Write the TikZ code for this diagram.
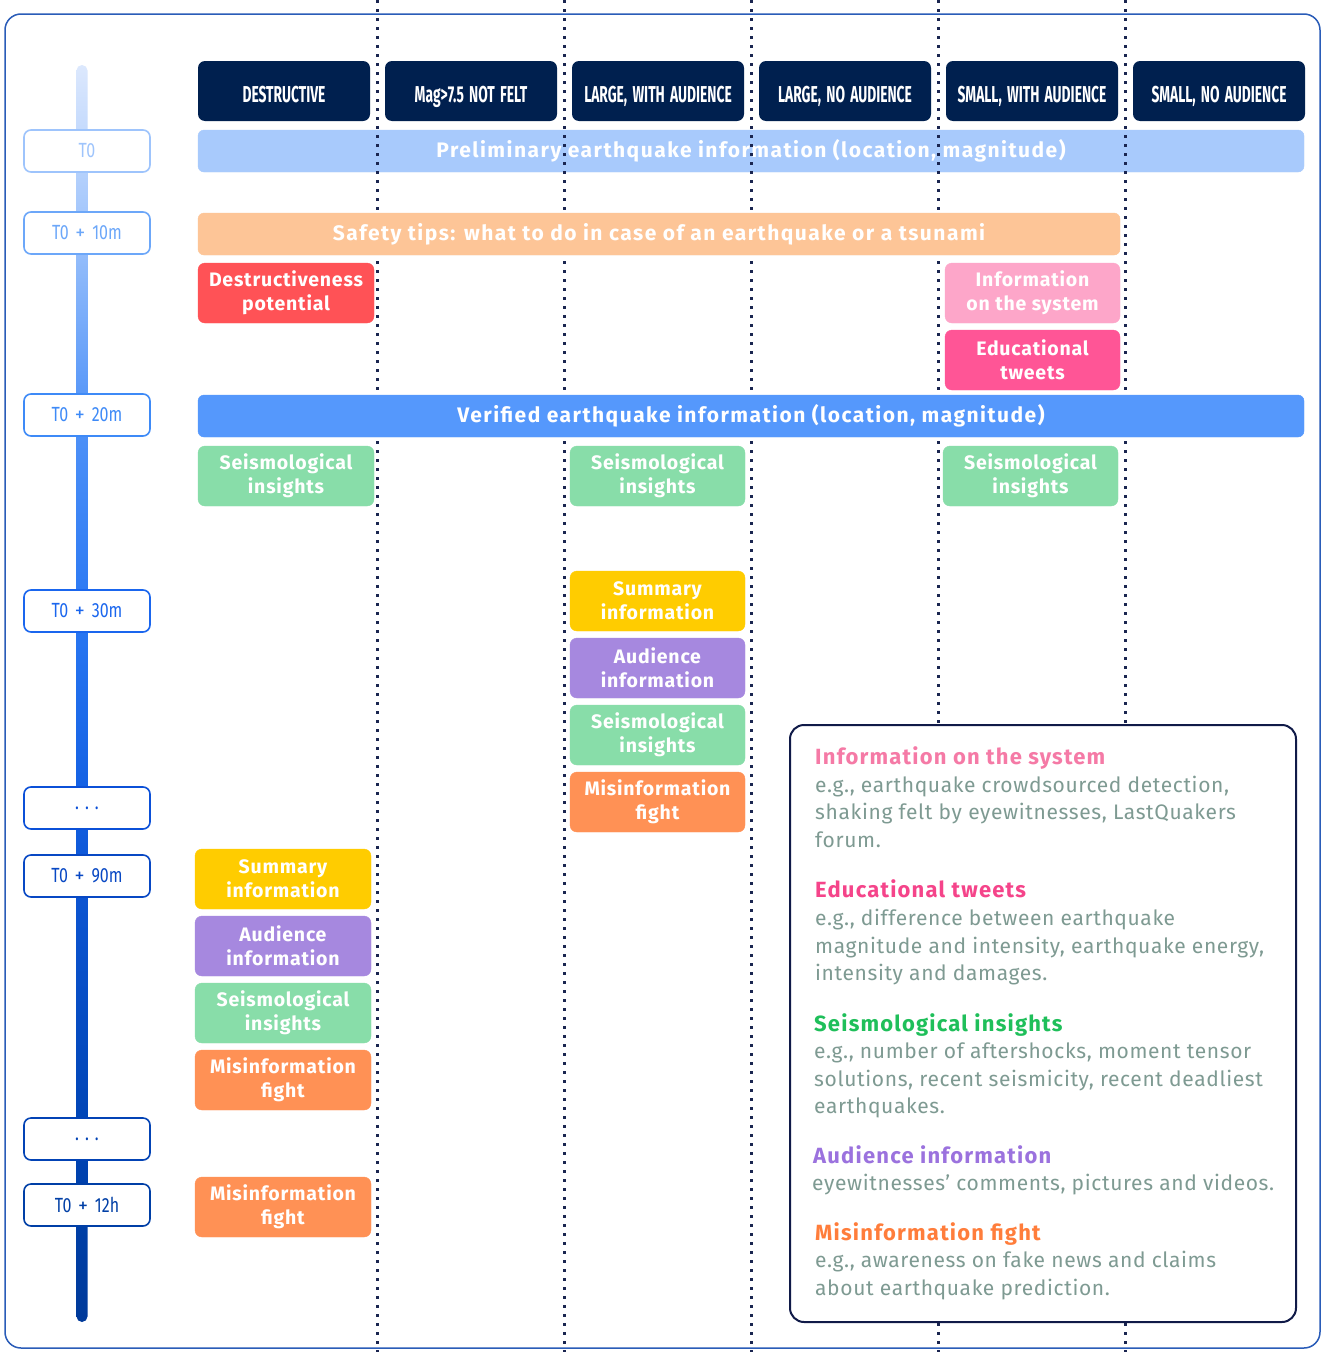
\documentclass[tikz,border=0pt]{standalone}
\usepackage{fontspec}
\setmainfont{Fira Sans}
\newfontfamily\hdrfont[FakeStretch=0.6, WordSpace=1.6]{Fira Sans}
\newfontfamily\tlfont[FakeStretch=0.78]{Fira Sans}
\newfontfamily\plusfont{Fira Sans}
\newfontfamily\barfont[LetterSpace=7]{Fira Sans}
\newfontfamily\boxfont[LetterSpace=4]{Fira Sans}
\newfontfamily\legheadfont[LetterSpace=5.5]{Fira Sans}
\newfontfamily\legbodyfont[LetterSpace=3]{Fira Sans}
\newcommand{\tplus}{\hspace{6.5pt}{\plusfont\fontsize{20}{20}\selectfont +}\hspace{7pt}}
\newcommand{\tdots}{.\hspace{6pt}.\hspace{6pt}.\hspace{8pt}}
\definecolor{navy}{HTML}{00204F}
\definecolor{framec}{HTML}{2A5CB8}
\definecolor{dotc}{HTML}{1A2550}
\definecolor{prelim}{HTML}{A8CAFC}
\definecolor{safety}{HTML}{FDC597}
\definecolor{verif}{HTML}{5598FC}
\definecolor{cred}{HTML}{FF5256}
\definecolor{cpinkl}{HTML}{FDA6C9}
\definecolor{cpink}{HTML}{FF5596}
\definecolor{cgreen}{HTML}{88DDA9}
\definecolor{cyellow}{HTML}{FFCC00}
\definecolor{cpurple}{HTML}{A688DF}
\definecolor{corange}{HTML}{FF9155}
\definecolor{legtext}{HTML}{7E9A92}
\definecolor{legbord}{HTML}{101A48}
\definecolor{hpinkl}{HTML}{F57AA6}
\definecolor{hpink}{HTML}{F5448A}
\definecolor{hgreen}{HTML}{1FBF5A}
\definecolor{hpurple}{HTML}{9B72DE}
\definecolor{horange}{HTML}{FF7D3B}
\definecolor{g0}{HTML}{DCE8FD}
\definecolor{g1}{HTML}{BDD6FD}
\definecolor{g2}{HTML}{9CC2FB}
\definecolor{g3}{HTML}{5193F8}
\definecolor{g4}{HTML}{2A78F3}
\definecolor{g5}{HTML}{125FE2}
\definecolor{g6}{HTML}{0D56D4}
\definecolor{g7}{HTML}{0044B4}
\definecolor{g8}{HTML}{0040A9}
\definecolor{g9}{HTML}{003A9A}
\definecolor{l1}{HTML}{9EC4FC}
\definecolor{l2}{HTML}{6CA7F9}
\definecolor{l3}{HTML}{3E8AF7}
\definecolor{l4}{HTML}{1A66EE}
\definecolor{l5}{HTML}{0B50D8}
\definecolor{l6}{HTML}{0848C4}
\definecolor{l7}{HTML}{0343B5}
\definecolor{l8}{HTML}{003FA6}
\begin{document}
\begin{tikzpicture}[x=1pt,y=-1pt,
 hdr/.style={fill=navy, rounded corners=7pt, minimum width=172pt, minimum height=60pt, inner sep=0pt, text=white, text height=22pt, text depth=0pt, font=\hdrfont\bfseries\fontsize{23}{26}\selectfont},
 tlab/.style={fill=white, draw=#1, text=#1, line width=1.6pt, rounded corners=7pt, minimum width=126pt, minimum height=42pt, inner sep=0pt, font=\tlfont\fontsize{20.5}{24}\selectfont},
 bar/.style={fill=#1, draw=#1, rounded corners=6pt, minimum height=42pt, inner sep=0pt, text=white, font=\barfont\bfseries\fontsize{21}{24}\selectfont},
 cbox/.style={fill=#1, draw=#1, rounded corners=7pt, minimum width=175pt, minimum height=60pt, inner sep=0pt, text=white, align=center, font=\boxfont\bfseries\fontsize{19.5}{24}\selectfont},
 lhead/.style={anchor=base west, inner sep=0pt, text=#1, font=\legheadfont\bfseries\fontsize{22}{24}\selectfont},
 lbody/.style={anchor=base west, inner sep=0pt, text=legtext, font=\legbodyfont\fontsize{21}{24}\selectfont},
 dots/.style={draw=dotc, line width=2.6pt, dash pattern=on 2.6pt off 6.4pt}
]
\useasboundingbox (0,0) rectangle (1325,1352);
\fill[white] (0,0) rectangle (1325,1352);
% outer frame
\draw[framec, line width=1.5pt, rounded corners=16pt] (5,14) rectangle (1320,1348);
% headers
\node[hdr] (h1) at (284,91) {DESTRUCTIVE};
\node[hdr] (h2) at (471,91) {Mag>7.5 NOT FELT};
\node[hdr] (h3) at (658,91) {LARGE, WITH AUDIENCE};
\node[hdr] (h4) at (845,91) {LARGE, NO AUDIENCE};
\node[hdr] (h5) at (1032,91) {SMALL, WITH AUDIENCE};
\node[hdr] (h6) at (1219,91) {SMALL, NO AUDIENCE};
% preliminary bar
\node[bar=prelim, minimum width=1106pt] (prel) at (751,151) {Preliminary earthquake information (location, magnitude)};
% dotted column separators
\foreach \x in {377.5,564.5,751.5,938.5,1125.5}
  \draw[dots] (\x,0) -- (\x,1352);
% safety & verified bars
\node[bar=safety, minimum width=922pt] (safe) at (659,234) {Safety tips: what to do in case of an earthquake or a tsunami};
\node[bar=verif, minimum width=1106pt] (verf) at (751,416) {Verified earthquake information (location, magnitude)};
% boxes
\node[cbox=cred, minimum width=176pt] (destr) at (286,293) {Destructiveness\\potential};
\node[cbox=cpinkl] (infs) at (1032.5,293) {Information\\on the system};
\node[cbox=cpink] (educ) at (1032.5,360) {Educational\\tweets};
\node[cbox=cgreen, minimum width=176pt] (seis1) at (286,476) {Seismological\\insights};
\node[cbox=cgreen] (seis3) at (657.5,476) {Seismological\\insights};
\node[cbox=cgreen] (seis5) at (1030.5,476) {Seismological\\insights};
\node[cbox=cyellow] (sum3) at (657.5,601) {Summary\\information};
\node[cbox=cpurple] (aud3) at (657.5,668) {Audience\\information};
\node[cbox=cgreen] (seis3b) at (657.5,735) {Seismological\\insights};
\node[cbox=corange] (mis3) at (657.5,802) {Misinformation\\fight};
\node[cbox=cyellow, minimum width=176pt] (sum1) at (283,879) {Summary\\information};
\node[cbox=cpurple, minimum width=176pt] (aud1) at (283,946) {Audience\\information};
\node[cbox=cgreen, minimum width=176pt] (seis1b) at (283,1013) {Seismological\\insights};
\node[cbox=corange, minimum width=176pt] (mis1) at (283,1080) {Misinformation\\fight};
\node[cbox=corange, minimum width=176pt] (mis1b) at (283,1207) {Misinformation\\fight};
% timeline bar
\shade[top color=g0, bottom color=g1, rounded corners=5.5pt] (76.5,151) -- (76.5,65) -- (87.5,65) -- (87.5,151) -- cycle;
\shade[top color=g1, bottom color=g2] (76.5,151) rectangle (87.5,233);
\shade[top color=g2, bottom color=g3] (76.5,233) rectangle (87.5,415);
\shade[top color=g3, bottom color=g4] (76.5,415) rectangle (87.5,611);
\shade[top color=g4, bottom color=g5] (76.5,611) rectangle (87.5,808);
\shade[top color=g5, bottom color=g6] (76.5,808) rectangle (87.5,876);
\shade[top color=g6, bottom color=g7] (76.5,876) rectangle (87.5,1139);
\shade[top color=g7, bottom color=g8] (76.5,1139) rectangle (87.5,1205);
\shade[top color=g8, bottom color=g9, rounded corners=5.5pt] (76.5,1205) -- (76.5,1322) -- (87.5,1322) -- (87.5,1205) -- cycle;
% timeline labels
\node[tlab=l1] (t0) at (87,151) {T0};
\node[tlab=l2] (t10) at (87,233) {T0\tplus10m};
\node[tlab=l3] (t20) at (87,415) {T0\tplus20m};
\node[tlab=l4] (t30) at (87,611) {T0\tplus30m};
\node[tlab=l5] (td1) at (87,808) {\tdots};
\node[tlab=l6] (t90) at (87,876) {T0\tplus90m};
\node[tlab=l7] (td2) at (87,1139) {\tdots};
\node[tlab=l8] (t12) at (87,1205) {T0\tplus12h};
% legend
\draw[legbord, fill=white, line width=2pt, rounded corners=14pt] (790,725) rectangle (1296,1322);
\node[lhead=hpinkl] (lh1) at (815,764) {Information on the system};
\node[lbody] (lb1a) at (815,792) {e.g., earthquake crowdsourced detection,};
\node[lbody] (lb1b) at (815,819) {shaking felt by eyewitnesses, LastQuakers};
\node[lbody] (lb1c) at (815,847) {forum.};
\node[lhead=hpink] (lh2) at (815,897) {Educational tweets};
\node[lbody] (lb2a) at (815,925) {e.g., difference between earthquake};
\node[lbody] (lb2b) at (815,953) {magnitude and intensity, earthquake energy,};
\node[lbody] (lb2c) at (815,980) {intensity and damages.};
\node[lhead=hgreen] (lh3) at (814,1031) {Seismological insights};
\node[lbody] (lb3a) at (814,1058) {e.g., number of aftershocks, moment tensor};
\node[lbody] (lb3b) at (814,1086) {solutions, recent seismicity, recent deadliest};
\node[lbody] (lb3c) at (814,1113) {earthquakes.};
\node[lhead=hpurple] (lh4) at (813,1163) {Audience information};
\node[lbody] (lb4a) at (812,1190) {eyewitnesses’ comments, pictures and videos.};
\node[lhead=horange] (lh5) at (815,1240) {Misinformation fight};
\node[lbody] (lb5a) at (815,1267) {e.g., awareness on fake news and claims};
\node[lbody] (lb5b) at (815,1295) {about earthquake prediction.};
\end{tikzpicture}
\end{document}
